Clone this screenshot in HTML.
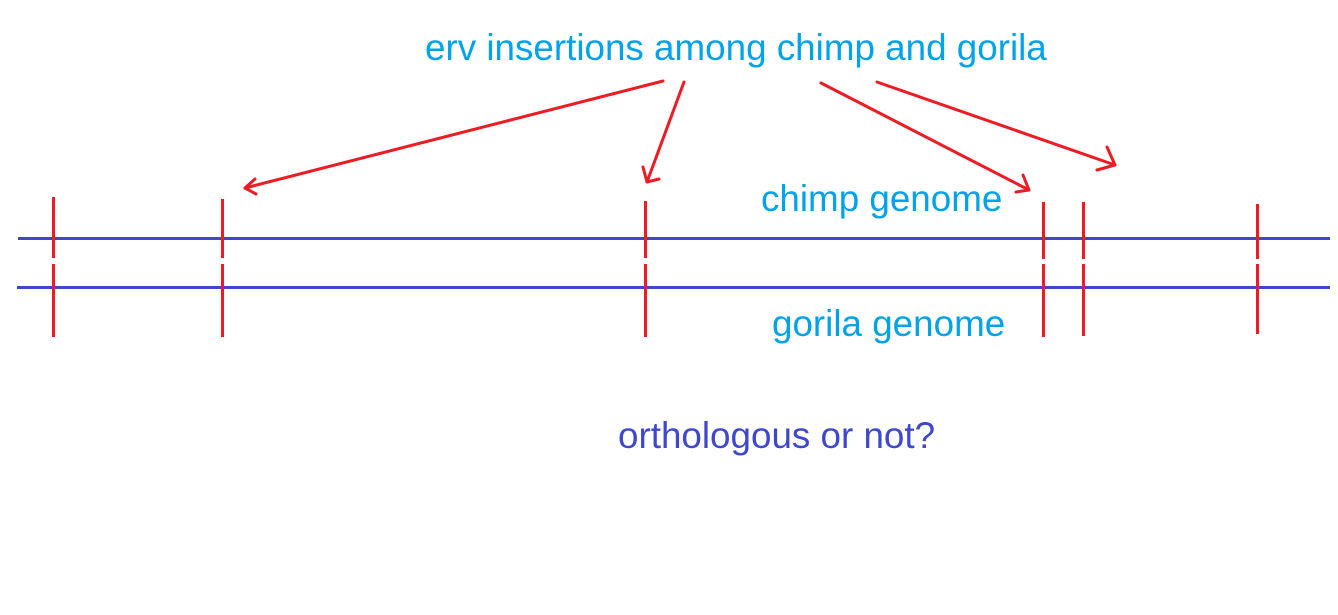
<!DOCTYPE html>
<html><head><meta charset="utf-8"><style>
html,body{margin:0;padding:0;background:#fff;width:1338px;height:615px;overflow:hidden}
svg{display:block}
text{font-family:"Liberation Sans",Arial,sans-serif;font-size:36.8px}
</style></head><body>
<svg width="1338" height="615" viewBox="0 0 1338 615">
<g stroke="#3F48CC" stroke-width="3">
<line x1="18" y1="238.5" x2="1330" y2="238.5"/>
<line x1="17" y1="287.5" x2="1330" y2="287.5"/>
</g>
<g stroke="#ED1C24" stroke-width="3">
<line x1="53.5" y1="197" x2="53.5" y2="258"/><line x1="53.5" y1="264" x2="53.5" y2="337"/>
<line x1="222.5" y1="199" x2="222.5" y2="258"/><line x1="222.5" y1="264" x2="222.5" y2="337"/>
<line x1="645.5" y1="201" x2="645.5" y2="258"/><line x1="645.5" y1="264" x2="645.5" y2="337"/>
<line x1="1043.5" y1="202" x2="1043.5" y2="259"/><line x1="1043.5" y1="264" x2="1043.5" y2="337"/>
<line x1="1083.5" y1="202" x2="1083.5" y2="259"/><line x1="1083.5" y1="264" x2="1083.5" y2="336"/>
<line x1="1257.5" y1="204" x2="1257.5" y2="259"/><line x1="1257.5" y1="264" x2="1257.5" y2="334"/>
</g>
<g stroke="#ED1C24" stroke-width="3" fill="none" stroke-linecap="round" stroke-linejoin="round">
<line x1="663" y1="81" x2="245" y2="188"/><polyline points="255,179 245,188 256,194"/>
<line x1="684" y1="82" x2="647" y2="182"/><polyline points="643,167 647,182 659,179"/>
<line x1="821" y1="83" x2="1029" y2="190"/><polyline points="1023,175 1029,190 1016,192"/>
<line x1="877" y1="82" x2="1115" y2="165"/><polyline points="1107,147 1115,165 1097,170"/>
</g>
<text x="425" y="60" fill="#00A2E8">erv insertions among chimp and gorila</text>
<text x="761" y="211" fill="#00A2E8">chimp genome</text>
<text x="772" y="336" fill="#00A2E8">gorila genome</text>
<text x="618" y="448" fill="#3F48CC">orthologous or not?</text>
</svg>
</body></html>
